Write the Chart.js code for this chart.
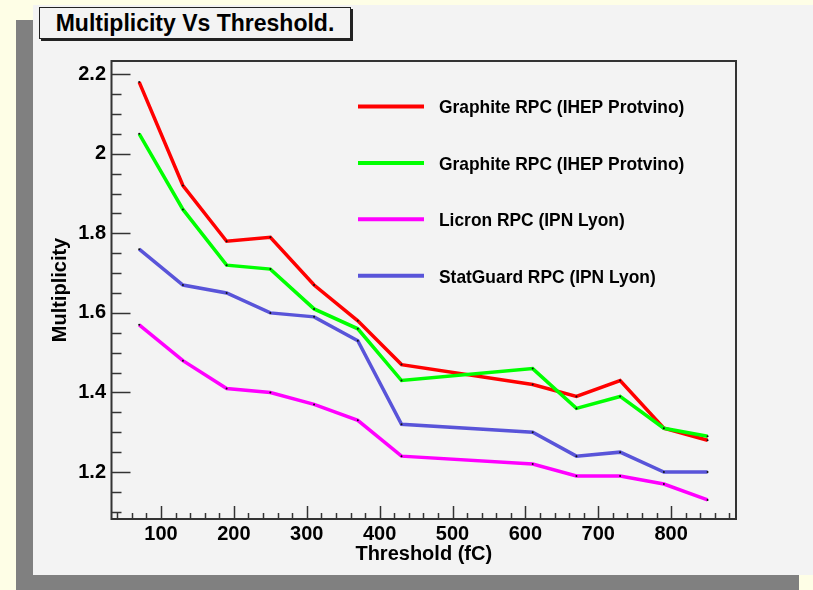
<!DOCTYPE html>
<html>
<head>
<meta charset="utf-8">
<title>Multiplicity Vs Threshold</title>
<script src="https://cdn.jsdelivr.net/npm/chart.js@4.4.1/dist/chart.umd.min.js"></script>
<style>
  html, body { margin: 0; padding: 0; }
  body { width: 813px; height: 590px; background: #fefee6; position: relative; overflow: hidden;
         font-family: "Liberation Sans", Arial, sans-serif; }
  #shadow { position: absolute; left: 16px; top: 20px; width: 783px; height: 570px; background: #808080; }
  #pad { position: absolute; left: 33px; top: 5px; width: 780px; height: 570px; background: #f3f3f3; }
  #title { position: absolute; left: 39px; top: 7px; width: 310px; height: 30px; border: 1px solid #222;
           box-shadow: 2px 2px 0 #222; background: #f3f3f3; font-weight: bold; font-size: 23px;
           text-align: center; line-height: 31px; color: #000; }
  #chart { position: absolute; left: 0; top: 0; }
</style>
</head>
<body>
<div id="shadow"></div>
<div id="pad"></div>
<div id="title">Multiplicity Vs Threshold.</div>
<canvas id="chart" width="813" height="590"></canvas>
<script>
// data
const thresholds = [70, 130, 190, 250, 310, 370, 430, 610, 670, 730, 790, 850];
const graphiteRed = [2.18, 1.92, 1.78, 1.79, 1.67, 1.58, 1.47, 1.42, 1.39, 1.43, 1.31, 1.28];
const graphiteGreen = [2.05, 1.86, 1.72, 1.71, 1.61, 1.56, 1.43, 1.46, 1.36, 1.39, 1.31, 1.29];
const licron = [1.57, 1.48, 1.41, 1.40, 1.37, 1.33, 1.24, 1.22, 1.19, 1.19, 1.17, 1.13];
const statGuard = [1.76, 1.67, 1.65, 1.60, 1.59, 1.53, 1.32, 1.30, 1.24, 1.25, 1.20, 1.20];

const seriesNames = ['Graphite RPC (IHEP Protvino)', 'Graphite RPC (IHEP Protvino)',
                     'Licron RPC (IPN Lyon)', 'StatGuard RPC (IPN Lyon)'];
const xTickValues = [100, 200, 300, 400, 500, 600, 700, 800];
const yTickValues = [1.2, 1.4, 1.6, 1.8, 2, 2.2];

const FONT = '"Liberation Sans", Arial, sans-serif';

function toPoints(values) {
    return values.map((v, i) => ({ x: thresholds[i], y: v }));
}

function makeSet(label, values, color, order) {
    return {
        label: label,
        data: toPoints(values),
        borderColor: color,
        borderWidth: 3.5,
        pointRadius: 1,
        pointBackgroundColor: '#111',
        pointBorderWidth: 0,
        tension: 0,
        order: order
    };
}

// frame, ROOT style ticks and legend
const frameAndLegend = {
    id: 'frameAndLegend',
    beforeDatasetsDraw(chart) {
        const ctx = chart.ctx;
        const area = chart.chartArea;
        const xs = chart.scales.x;
        const ys = chart.scales.y;
        ctx.save();
        ctx.strokeStyle = '#333';
        ctx.lineWidth = 1.5;

        // y ticks every 0.05, major every 0.2
        for (let k = 22; k <= 44; k++) {
            const v = k * 0.05;
            if (v < ys.min || v > ys.max) continue;
            const py = Math.round(ys.getPixelForValue(v)) + 0.5;
            const len = (k % 4 === 0) ? 19 : 10;
            ctx.beginPath();
            ctx.moveTo(area.left, py);
            ctx.lineTo(area.left + len, py);
            ctx.stroke();
        }
        // x ticks every 20, major every 100
        for (let k = 2; k <= 44; k++) {
            const v = k * 20;
            if (v < xs.min || v > xs.max) continue;
            const px = Math.round(xs.getPixelForValue(v)) + 0.5;
            const len = (v % 100 === 0) ? 13 : 6;
            ctx.beginPath();
            ctx.moveTo(px, area.bottom);
            ctx.lineTo(px, area.bottom - len);
            ctx.stroke();
        }

        ctx.lineWidth = 2;
        ctx.strokeStyle = '#333';
        ctx.strokeRect(area.left, area.top, area.right - area.left, area.bottom - area.top);
        ctx.restore();
    },
    afterDraw(chart) {
        const ctx = chart.ctx;
        ctx.save();
        ctx.font = 'bold 19px ' + FONT;
        ctx.textBaseline = 'alphabetic';
        ctx.fillStyle = '#000';
        chart.data.datasets.forEach((ds, i) => {
            const y = 106.5 + i * 56.4;
            ctx.strokeStyle = ds.borderColor;
            ctx.lineWidth = 4;
            ctx.beginPath();
            ctx.moveTo(358, y);
            ctx.lineTo(424, y);
            ctx.stroke();
            // slightly condensed, like the original
            ctx.save();
            ctx.translate(439, y + 6.8);
            ctx.scale(0.915, 1);
            ctx.fillText(ds.label, 0, 0);
            ctx.restore();
        });
        ctx.restore();
    }
};

const ctx = document.getElementById('chart').getContext('2d');
new Chart(ctx, {
    type: 'line',
    data: {
        datasets: [
            makeSet(seriesNames[0], graphiteRed, '#ff0000', 4),
            makeSet(seriesNames[1], graphiteGreen, '#00ff00', 3),
            makeSet(seriesNames[2], licron, '#ff00ff', 2),
            makeSet(seriesNames[3], statGuard, '#5954d9', 1)
        ]
    },
    options: {
        responsive: false,
        animation: false,
        layout: { padding: { left: 0, top: 61, right: 77, bottom: 0 } },
        plugins: {
            legend: { display: false },
            tooltip: { enabled: false },
            title: { display: false }
        },
        scales: {
            x: {
                type: 'linear',
                min: 32,
                max: 889,
                grid: { display: false, drawTicks: false },
                border: { display: false },
                afterBuildTicks: s => { s.ticks = xTickValues.map(v => ({ value: v })); },
                afterFit: s => { s.height = 71; },
                ticks: {
                    padding: 3,
                    color: '#000',
                    font: { family: FONT, size: 20, weight: 'bold' },
                    maxRotation: 0,
                    callback: v => String(v)
                },
                title: {
                    display: true,
                    text: 'Threshold (fC)',
                    color: '#000',
                    font: { family: FONT, size: 20, weight: 'bold' },
                    padding: { top: 0, bottom: 24 }
                }
            },
            y: {
                type: 'linear',
                min: 1.082,
                max: 2.233,
                grid: { display: false, drawTicks: false },
                border: { display: false },
                afterBuildTicks: s => { s.ticks = yTickValues.map(v => ({ value: v })); },
                afterFit: s => { s.width = 111.5; },
                ticks: {
                    padding: 5.5,
                    color: '#000',
                    font: { family: FONT, size: 20, weight: 'bold' },
                    callback: v => String(v)
                },
                title: {
                    display: true,
                    text: 'Multiplicity',
                    color: '#000',
                    font: { family: FONT, size: 20, weight: 'bold' },
                    padding: { top: 48, bottom: 0 }
                }
            }
        }
    },
    plugins: [frameAndLegend]
});
</script>
</body>
</html>
